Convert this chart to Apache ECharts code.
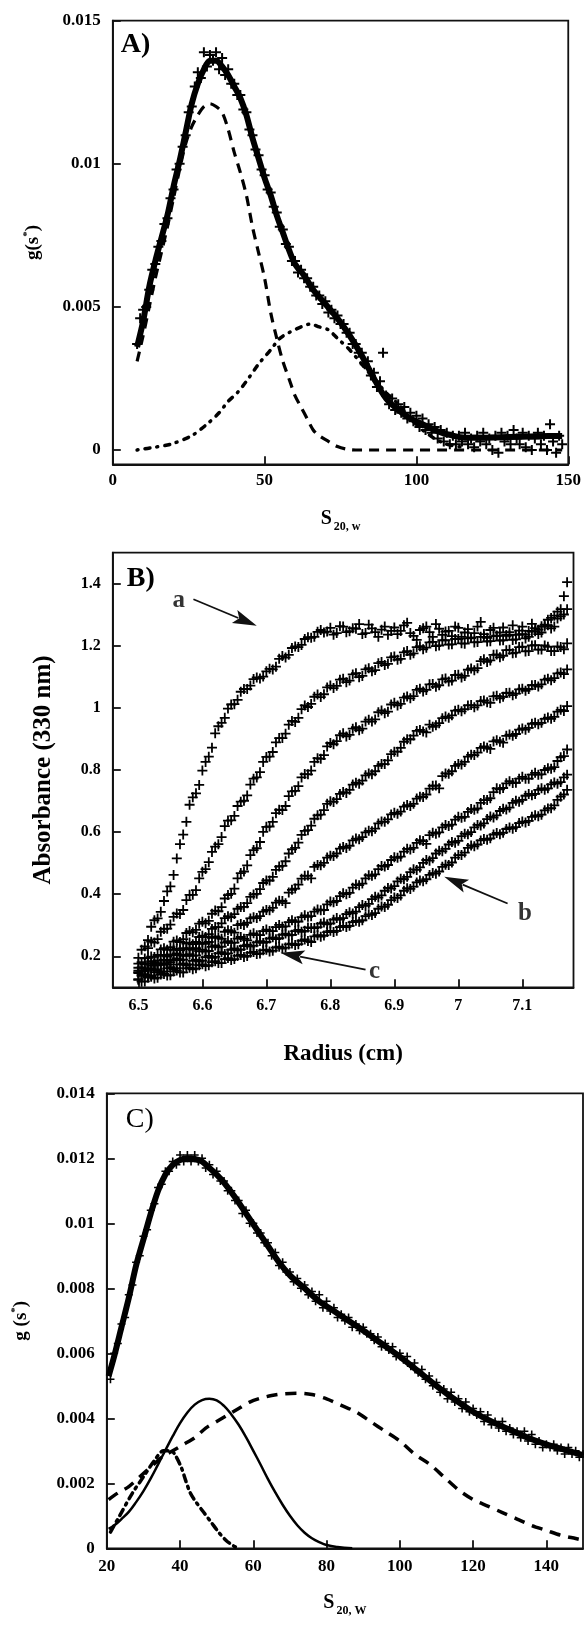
<!DOCTYPE html>
<html><head><meta charset="utf-8">
<script src="https://cdn.jsdelivr.net/npm/echarts@6/dist/echarts.min.js"></script>
<style>html,body{margin:0;padding:0;background:#fff}#c{width:584px;height:1633px}</style>
</head><body><div id="c"></div>
<script>
// ---------- Panel A ----------
const sA = [8,9,10,11,12,13,14,15,16,17,18,19,20,21,22,23,24,25,26,27,28,29,30,31,32,33,34,35,36,37,38,39,40,41,42,43,44,45,46,47,48,49,50,51,52,53,54,55,56,57,58,59,60,61,62,63,64,65,66,67,68,69,70,71,72,73,74,75,76,77,78,79,80,81,82,83,84,85,86,87,88,89,90,91,92,93,94,95,96,97,98,99,100,101,102,103,104,105,106,107,108,109,110,111,112,113,114,115,116,117,118,119,120,121,122,123,124,125,126,127,128,129,130,131,132,133,134,135,136,137,138,139,140,141,142,143,144,145,146,147,148];
const gA = [0.0037,0.0046,0.0049,0.0050,0.0056,0.0063,0.0065,0.0071,0.0073,0.0079,
0.0081,0.0088,0.0091,0.0098,0.0100,0.0106,0.0110,0.0118,0.0120,0.0127,
0.0132,0.0130,0.0139,0.0134,0.0138,0.0136,0.0139,0.0133,0.0137,0.0131,
0.0133,0.0128,0.0128,0.0124,0.0124,0.0119,0.0118,0.0112,0.0110,0.0105,
0.0103,0.0098,0.0096,0.0091,0.0090,0.0085,0.0083,0.0078,0.0077,0.0072,
0.0071,0.0066,0.0066,0.0062,0.0063,0.0060,0.0060,0.0057,0.0057,0.0054,
0.0054,0.0051,0.0052,0.0048,0.0049,0.0046,0.0047,0.0044,0.0044,0.0041,
0.0041,0.0037,0.0037,0.0034,0.0034,0.0030,0.0031,0.0026,0.0027,0.0022,
0.0024,0.0034,0.0019,0.0016,0.0018,0.0014,0.0016,0.0013,0.0015,0.0011,
0.0013,0.0010,0.0012,0.0008,0.0011,0.0007,0.0009,0.0006,0.0008,0.0004,
0.0007,0.0003,0.0006,0.0002,0.0005,0.0002,0.0005,0.0003,0.0006,0.0002,
0.0004,0.0001,0.0005,0.0003,0.0006,0.0002,0.0004,0.0000,0.0005,-0.0001,
0.0006,0.0003,0.0005,0.0002,0.0007,0.0004,0.0002,0.0006,0.0001,0.0005,
0.0000,0.0004,0.0006,0.0002,0.0005,0.0000,0.0009,0.0003,-0.0001,0.0005,
0.0002];
const fitAX = [8,10,12,14,16,18,20,22,24,26,28,30,32,34,36,38,40,42,44,46,48,50,52,54,56,58,60,63,66,70,74,78,82,86,90,94,98,102,106,110,116,122,130,140,148];
const fitAY = [0.0036,0.0045,0.0057,0.0066,0.0074,0.0082,0.0092,0.0101,0.0111,0.0121,0.0128,0.0133,0.0136,0.0136,0.0134,0.0131,0.0127,0.0123,0.0117,0.0109,0.0102,0.0095,0.0089,0.0082,0.0076,0.0070,0.0065,0.0061,0.0056,0.0051,0.0046,0.0040,0.0033,0.0025,0.0018,0.0014,0.0011,0.0009,0.0007,0.00055,0.00043,0.00043,0.00045,0.00048,0.00049];
const c1AX = [8,10,12,14,16,18,20,22,24,26,28,30,32,34,36,38,40,42,44,46,48,50,52,54,56,58,60,62,64,66,68,71,74,77,80,90,100,110,120,130,140,148];
const c1AY = [0.0031,0.0040,0.0050,0.0060,0.0069,0.0078,0.0088,0.0098,0.0107,0.0113,0.0117,0.0120,0.0121,0.0120,0.0118,0.0112,0.0104,0.0097,0.0089,0.0078,0.0069,0.0060,0.0048,0.0039,0.0031,0.0025,0.0019,0.0015,0.0011,0.0007,0.0005,0.0003,0.00012,0.00003,0,0,0,0,0,0,0,0];
const c2AX = [8,14,19,26,31,35,38,41,44,48,52,55,58,62,65,68,71,74,78,82,86,90,94,98,102,106,110,115];
const c2AY = [0,0.0001,0.0002,0.0005,0.0009,0.0013,0.0017,0.0020,0.0024,0.0030,0.0035,0.0039,0.0041,0.0043,0.0044,0.0043,0.0042,0.0039,0.0035,0.0030,0.0025,0.0020,0.0016,0.0011,0.0007,0.0004,0.0002,0.0001];
const ticksAX = [0,50,100,150];
const ticksAY = [0,0.005,0.01,0.015];

// ---------- Panel B ----------
const R = [6.50,6.51,6.52,6.53,6.54,6.55,6.56,6.57,6.58,6.59,6.60,6.61,6.62,6.63,6.64,6.65,6.66,6.67,6.68,6.69,6.70,6.71,6.72,6.73,6.74,6.75,6.76,6.77,6.78,6.79,6.80,6.81,6.82,6.83,6.84,6.85,6.86,6.87,6.88,6.89,6.90,6.91,6.92,6.93,6.94,6.95,6.96,6.97,6.98,6.99,7.00,7.01,7.02,7.03,7.04,7.05,7.06,7.07,7.08,7.09,7.10,7.11,7.12,7.13,7.14,7.15,7.16,7.17];
const R2 = [6.505,6.515,6.525,6.535,6.545,6.555,6.565,6.575,6.585,6.595,6.605,6.615,6.625,6.635,6.645,6.655,6.665,6.675,6.685,6.695,6.705,6.715,6.725,6.735,6.745,6.755,6.765,6.775,6.785,6.795,6.805,6.815,6.825,6.835,6.845,6.855,6.865,6.875,6.885,6.895,6.905,6.915,6.925,6.935,6.945,6.955,6.965,6.975,6.985,6.995,7.005,7.015,7.025,7.035,7.045,7.055,7.065,7.075,7.085,7.095,7.105,7.115,7.125,7.135,7.145,7.155,7.165];
const scan1 = [0.195,0.232,0.295,0.322,0.378,0.425,0.515,0.592,0.688,0.725,
0.798,0.843,0.918,0.952,0.998,1.012,1.052,1.061,1.093,1.095,
1.118,1.124,1.158,1.162,1.193,1.196,1.222,1.226,1.245,1.243,
1.258,1.241,1.262,1.247,1.255,1.238,1.268,1.244,1.252,1.236,
1.259,1.248,1.274,1.232,1.251,1.262,1.229,1.255,1.246,1.231,
1.258,1.243,1.226,1.262,1.238,1.251,1.233,1.259,1.244,1.236,
1.262,1.248,1.257,1.263,1.284,1.297,1.318,1.405];
const scan1b = [0.221,0.252,0.316,0.343,0.409,0.462,0.561,0.633,0.712,0.752,
0.826,0.872,0.941,0.968,1.011,1.026,1.061,1.072,1.098,1.101,
1.126,1.133,1.167,1.171,1.198,1.203,1.228,1.229,1.251,1.246,
1.236,1.263,1.244,1.257,1.270,1.241,1.256,1.229,1.262,1.248,
1.238,1.266,1.241,1.219,1.257,1.244,1.270,1.235,1.248,1.262,
1.229,1.254,1.241,1.277,1.226,1.258,1.243,1.232,1.266,1.249,
1.236,1.271,1.252,1.268,1.290,1.310,1.360];
const scan2 = [0.176,0.193,0.247,0.255,0.288,0.302,0.338,0.349,0.398,0.413,
0.472,0.503,0.553,0.584,0.637,0.652,0.698,0.718,0.772,0.793,
0.842,0.858,0.903,0.917,0.958,0.968,1.008,1.013,1.043,1.044,
1.072,1.071,1.094,1.088,1.112,1.103,1.128,1.122,1.148,1.142,
1.166,1.158,1.183,1.176,1.199,1.194,1.213,1.201,1.218,1.205,
1.222,1.207,1.226,1.212,1.229,1.215,1.232,1.218,1.234,1.221,
1.238,1.229,1.247,1.243,1.266,1.262,1.295,1.318];
const scan2b = [0.181,0.226,0.244,0.279,0.289,0.327,0.336,0.381,0.398,0.451,
0.481,0.536,0.561,0.619,0.638,0.684,0.701,0.753,0.776,0.826,
0.843,0.889,0.903,0.946,0.955,0.996,1.003,1.036,1.035,1.066,
1.064,1.091,1.083,1.108,1.099,1.124,1.118,1.144,1.138,1.163,
1.155,1.179,1.171,1.196,1.189,1.211,1.199,1.218,1.204,1.222,
1.208,1.224,1.211,1.229,1.214,1.231,1.217,1.235,1.219,1.236,
1.224,1.246,1.238,1.262,1.256,1.288,1.301];
const scan3 = [0.163,0.174,0.199,0.204,0.226,0.229,0.251,0.255,0.281,0.285,
0.311,0.314,0.347,0.358,0.397,0.418,0.468,0.493,0.542,0.568,
0.617,0.633,0.672,0.684,0.731,0.748,0.787,0.798,0.838,0.848,
0.887,0.893,0.918,0.913,0.938,0.933,0.962,0.963,0.992,0.988,
1.017,1.013,1.037,1.038,1.062,1.058,1.077,1.073,1.095,1.088,
1.107,1.103,1.127,1.128,1.157,1.153,1.172,1.168,1.187,1.178,
1.197,1.183,1.202,1.188,1.197,1.183,1.196,1.208];
const scan3b = [0.164,0.195,0.198,0.222,0.221,0.247,0.246,0.275,0.277,0.305,
0.306,0.337,0.345,0.386,0.401,0.451,0.473,0.526,0.548,0.601,
0.618,0.661,0.671,0.716,0.733,0.776,0.786,0.826,0.836,0.876,
0.883,0.912,0.908,0.933,0.928,0.956,0.956,0.986,0.983,1.011,
1.008,1.033,1.031,1.058,1.053,1.076,1.068,1.092,1.085,1.106,
1.098,1.123,1.121,1.151,1.148,1.171,1.163,1.186,1.176,1.196,
1.182,1.201,1.188,1.201,1.183,1.198,1.189];
const scan4 = [0.154,0.161,0.184,0.186,0.204,0.206,0.224,0.226,0.244,0.246,
0.266,0.271,0.294,0.306,0.329,0.336,0.359,0.371,0.399,0.416,
0.444,0.456,0.489,0.506,0.544,0.566,0.604,0.621,0.654,0.671,
0.699,0.706,0.729,0.736,0.759,0.766,0.789,0.796,0.819,0.831,
0.859,0.871,0.899,0.911,0.929,0.921,0.939,0.951,0.972,0.976,
0.994,0.996,1.009,1.008,1.024,1.016,1.039,1.036,1.049,1.046,
1.062,1.061,1.074,1.076,1.094,1.096,1.114,1.124];
const scan4b = [0.151,0.178,0.181,0.201,0.199,0.221,0.219,0.241,0.239,0.262,
0.262,0.288,0.294,0.323,0.326,0.353,0.359,0.391,0.401,0.436,
0.444,0.478,0.491,0.531,0.549,0.591,0.606,0.643,0.656,0.691,
0.697,0.723,0.726,0.753,0.756,0.783,0.786,0.813,0.819,0.851,
0.859,0.891,0.899,0.926,0.924,0.946,0.944,0.967,0.968,0.991,
0.989,1.008,1.002,1.022,1.018,1.037,1.031,1.048,1.041,1.060,
1.055,1.073,1.069,1.091,1.089,1.111,1.109];
const scan5 = [0.149,0.151,0.169,0.171,0.189,0.181,0.209,0.201,0.226,0.226,
0.244,0.246,0.264,0.256,0.284,0.276,0.304,0.308,0.326,0.329,
0.349,0.356,0.379,0.371,0.414,0.431,0.459,0.451,0.494,0.501,
0.524,0.531,0.552,0.556,0.579,0.584,0.604,0.611,0.634,0.641,
0.662,0.666,0.687,0.691,0.714,0.721,0.749,0.741,0.789,0.796,
0.819,0.826,0.849,0.856,0.876,0.868,0.896,0.888,0.914,0.916,
0.934,0.936,0.952,0.952,0.969,0.971,0.994,1.006];
const scan5b = [0.154,0.156,0.175,0.176,0.185,0.204,0.204,0.222,0.221,0.240,
0.240,0.259,0.261,0.279,0.281,0.300,0.301,0.322,0.323,0.344,
0.348,0.373,0.378,0.405,0.418,0.450,0.460,0.488,0.493,0.518,
0.523,0.547,0.549,0.573,0.577,0.599,0.603,0.628,0.633,0.657,
0.659,0.682,0.684,0.708,0.713,0.740,0.750,0.780,0.788,0.813,
0.818,0.843,0.848,0.871,0.872,0.892,0.891,0.910,0.910,0.930,
0.930,0.949,0.947,0.965,0.965,0.988,0.990];
const scan6 = [0.146,0.142,0.162,0.158,0.178,0.174,0.193,0.189,0.207,0.203,
0.221,0.217,0.235,0.231,0.249,0.244,0.262,0.251,0.274,0.268,
0.286,0.281,0.301,0.296,0.316,0.312,0.332,0.329,0.351,0.349,
0.376,0.378,0.403,0.404,0.431,0.434,0.461,0.464,0.491,0.494,
0.519,0.521,0.546,0.549,0.574,0.562,0.598,0.599,0.623,0.624,
0.649,0.649,0.674,0.676,0.703,0.709,0.741,0.742,0.764,0.759,
0.778,0.772,0.791,0.786,0.806,0.809,0.841,0.866];
const scan6b = [0.141,0.156,0.157,0.172,0.173,0.188,0.187,0.202,0.201,0.216,
0.215,0.230,0.229,0.244,0.243,0.257,0.256,0.269,0.268,0.281,
0.281,0.294,0.295,0.310,0.311,0.326,0.327,0.344,0.348,0.367,
0.374,0.394,0.400,0.421,0.429,0.451,0.459,0.481,0.489,0.510,
0.517,0.537,0.544,0.565,0.571,0.590,0.595,0.615,0.620,0.640,
0.646,0.665,0.672,0.694,0.703,0.729,0.738,0.757,0.758,0.772,
0.772,0.785,0.785,0.800,0.804,0.829,0.845];
const scan7 = [0.126,0.141,0.138,0.153,0.151,0.165,0.162,0.177,0.174,0.189,
0.186,0.201,0.198,0.213,0.209,0.225,0.222,0.237,0.234,0.249,
0.246,0.261,0.258,0.273,0.269,0.285,0.282,0.291,0.294,0.309,
0.306,0.323,0.323,0.342,0.344,0.365,0.369,0.392,0.396,0.420,
0.426,0.450,0.456,0.480,0.486,0.510,0.516,0.540,0.546,0.568,
0.572,0.595,0.600,0.623,0.628,0.650,0.654,0.675,0.679,0.701,
0.704,0.723,0.723,0.741,0.741,0.760,0.761,0.785];
const scan7b = [0.137,0.134,0.149,0.147,0.161,0.159,0.173,0.171,0.185,0.183,
0.197,0.195,0.209,0.207,0.221,0.219,0.233,0.231,0.245,0.243,
0.257,0.255,0.269,0.267,0.281,0.279,0.293,0.291,0.305,0.303,
0.318,0.318,0.336,0.338,0.358,0.362,0.384,0.389,0.411,0.418,
0.441,0.448,0.471,0.478,0.501,0.508,0.531,0.538,0.560,0.566,
0.587,0.593,0.615,0.621,0.642,0.647,0.668,0.673,0.694,0.698,
0.717,0.719,0.736,0.736,0.754,0.756,0.776];
const scan8 = [0.124,0.119,0.134,0.131,0.143,0.139,0.154,0.148,0.163,0.161,
0.174,0.171,0.184,0.178,0.194,0.191,0.204,0.201,0.214,0.209,
0.221,0.218,0.231,0.228,0.241,0.239,0.254,0.246,0.268,0.267,
0.282,0.282,0.298,0.298,0.314,0.316,0.335,0.339,0.360,0.366,
0.389,0.396,0.419,0.424,0.444,0.448,0.468,0.473,0.495,0.502,
0.526,0.534,0.557,0.560,0.578,0.580,0.597,0.598,0.615,0.616,
0.634,0.636,0.654,0.656,0.676,0.686,0.714,0.736];
const scan8b = [0.118,0.131,0.128,0.141,0.138,0.151,0.148,0.161,0.158,0.171,
0.168,0.181,0.178,0.191,0.188,0.201,0.198,0.211,0.207,0.219,
0.215,0.228,0.225,0.238,0.236,0.250,0.249,0.264,0.263,0.278,
0.278,0.294,0.294,0.310,0.311,0.329,0.333,0.353,0.359,0.381,
0.388,0.411,0.417,0.438,0.442,0.462,0.466,0.488,0.494,0.518,
0.526,0.549,0.554,0.573,0.575,0.592,0.593,0.610,0.611,0.629,
0.631,0.649,0.651,0.670,0.677,0.704,0.721];
const scansB = [[scan1,scan1b],[scan2,scan2b],[scan3,scan3b],[scan4,scan4b],[scan5,scan5b],[scan6,scan6b],[scan7,scan7b],[scan8,scan8b]];
const ticksBX = [6.5,6.6,6.7,6.8,6.9,7,7.1];
const ticksBY = [0.2,0.4,0.6,0.8,1,1.2,1.4];
// arrows: [fromR, fromA, toR, toA]
const arrowsB = [[6.586,1.350,6.685,1.265],[7.077,0.370,6.978,0.456],[6.855,0.157,6.722,0.211]];
const arrowNames = ['a','b','c'];
const arrowLabelPos = [[6.563,1.346],[7.104,0.336],[6.869,0.152]];

// ---------- Panel C ----------
const sC = [21,22,23,24,25,26,27,28,29,30,31,32,33,34,35,36,37,38,39,40,41,42,43,44,45,46,47,48,49,50,51,52,53,54,55,56,57,58,59,60,61,62,63,64,65,66,67,68,69,70,71,72,73,74,75,76,77,78,79,80,81,82,83,84,85,86,87,88,89,90,91,92,93,94,95,96,97,98,99,100,101,102,103,104,105,106,107,108,109,110,111,112,113,114,115,116,117,118,119,120,121,122,123,124,125,126,127,128,129,130,131,132,133,134,135,136,137,138,139,140,141,142,143,144,145,146,147,148,149,150];
const gC = [0.0052,0.0060,0.0063,0.0069,0.0071,0.0078,0.0081,0.0088,0.0090,0.0096,
0.0098,0.0104,0.0106,0.0111,0.0112,0.0116,0.0116,0.0119,0.0118,0.0121,
0.0119,0.0121,0.0119,0.0121,0.0119,0.0120,0.0117,0.0118,0.0115,0.0116,
0.0113,0.0113,0.0110,0.0110,0.0107,0.0107,0.0103,0.0104,0.0100,0.0100,
0.0097,0.0097,0.0094,0.0094,0.0090,0.0091,0.0087,0.0088,0.0085,0.0085,
0.0082,0.0083,0.0080,0.0081,0.0078,0.0079,0.0076,0.0078,0.0074,0.0076,
0.0073,0.0074,0.0071,0.0072,0.0070,0.0071,0.0068,0.0069,0.0067,0.0068,
0.0066,0.0066,0.0064,0.0065,0.0062,0.0063,0.0061,0.0062,0.0059,0.0060,
0.0058,0.0059,0.0056,0.0057,0.0054,0.0055,0.0052,0.0053,0.0050,0.0051,
0.0048,0.0049,0.0046,0.0048,0.0045,0.0046,0.0043,0.0045,0.0042,0.0043,
0.0041,0.0042,0.0039,0.0041,0.0038,0.0039,0.0037,0.0039,0.0036,0.0037,
0.0035,0.0036,0.0034,0.0036,0.0033,0.0035,0.0032,0.0033,0.0031,0.0032,
0.0031,0.0032,0.0030,0.0031,0.0029,0.0031,0.0029,0.0030,0.0028,0.0029];
const fitCX = [20.5,22,24,26,28,30,32,34,36,38,40,42,44,46,48,50,52,55,58,61,64,67,70,74,78,82,86,90,95,100,105,110,115,120,125,130,135,140,145,150];
const fitCY = [0.0053,0.0059,0.0068,0.0077,0.0087,0.0095,0.0103,0.0110,0.0115,0.0118,0.01195,0.0120,0.01198,0.0119,0.0117,0.0115,0.01125,0.0108,0.0103,0.0098,0.0093,0.0088,0.0084,0.0080,0.0076,0.0073,0.0070,0.0067,0.0063,0.0059,0.00545,0.0050,0.00458,0.0042,0.0039,0.00365,0.0034,0.0032,0.00303,0.00287];
const c1CX = [20.5,22,24,26,28,30,32,34,36,38,40,42,44,46,48,50,52,54,56,58,60,62,64,66,68,70,72,74,76,78,80,83,87];
const c1CY = [0.0006,0.0007,0.0009,0.00112,0.00142,0.00176,0.00215,0.00258,0.00302,0.00345,0.00385,0.00418,0.00442,0.00456,0.0046,0.00455,0.00438,0.00412,0.0038,0.00342,0.0030,0.00257,0.00213,0.00172,0.00134,0.0010,0.00071,0.00048,0.00031,0.00019,0.0001,0.00004,0];
const c2CX = [20.5,23,26,29,32,35,38,41,44,47,50,53,56,59,62,65,68,72,76,80,84,88,92,96,100,104,108,112,116,120,124,128,132,136,140,144,148,150];
const c2CY = [0.0015,0.0017,0.0019,0.0022,0.0025,0.0028,0.0030,0.0032,0.0034,0.0037,0.0039,0.0041,0.0043,0.0045,0.00462,0.0047,0.00475,0.00477,0.00473,0.0046,0.0044,0.0042,0.0039,0.0036,0.0033,0.0029,0.0026,0.0022,0.0018,0.0015,0.0013,0.0011,0.0009,0.0007,0.00055,0.0004,0.0003,0.00025];
const c3CX = [21,23.5,27,30,33,35.5,37.5,38.5,40.3,41.5,42.8,44.5,46.5,48.5,50.5,52.5,54.5,56];
const c3CY = [0.0005,0.0010,0.0017,0.0022,0.0027,0.0030,0.0030,0.0029,0.0025,0.0021,0.0017,0.0014,0.0011,0.0008,0.0005,0.00025,0.00008,0];
const ticksCX = [20,40,60,80,100,120,140];
const ticksCY = [0,0.002,0.004,0.006,0.008,0.01,0.012,0.014];

// ---------- build ----------
const FONT = '"Liberation Serif", "Times New Roman", serif';
const INK = '#000';
const pairs = (xs, ys) => xs.map((x, i) => [x, ys[i]]);
const PLUS = 'path://M0,5L10,5M5,0L5,10';

const grids = [
  {left: 112.8, top: 20.7, width: 455.9, height: 443.6},
  {left: 112.8, top: 552.7, width: 460.7, height: 434.6},
  {left: 106.8, top: 1093.3, width: 476.2, height: 455}
].map(g => Object.assign(g, {show: true, borderColor: '#111', borderWidth: 1.8, backgroundColor: 'transparent', containLabel: false}));

function valAxis(idx, min, max, ticks, fontSize, margin, extra) {
  return Object.assign({
    type: 'value', gridIndex: idx, min: min, max: max,
    axisLine: {show: true, onZero: false, lineStyle: {color: '#111', width: 1.8}},
    axisTick: {show: true, inside: true, length: 8, customValues: ticks, lineStyle: {color: '#111', width: 1.8}},
    axisLabel: {show: true, customValues: ticks, color: INK, fontFamily: FONT, fontWeight: 'bold', fontSize: fontSize, margin: margin},
    splitLine: {show: false}
  }, extra || {});
}

const subRich = {
  s: {fontFamily: FONT, fontWeight: 'bold', fontSize: 20, color: INK},
  sub: {fontFamily: FONT, fontWeight: 'bold', fontSize: 12, color: INK, padding: [16, 0, 0, 2]}
};
const gRich = {
  t: {fontFamily: FONT, fontWeight: 'bold', fontSize: 19, color: INK},
  sup: {fontFamily: FONT, fontWeight: 'bold', fontSize: 11, color: INK, padding: [0, 0, 12, 0]}
};

const xAxes = [
  valAxis(0, 0, 150, ticksAX, 17, 8, {name: '{s|S}{sub|20, w}', nameLocation: 'middle', nameGap: 41, nameTextStyle: {rich: subRich}}),
  valAxis(1, 6.46, 7.18, ticksBX, 16, 11, {name: 'Radius (cm)', nameLocation: 'middle', nameGap: 55,
    nameTextStyle: {fontFamily: FONT, fontWeight: 'bold', fontSize: 23, color: INK}}),
  valAxis(2, 20, 150, ticksCX, 17, 10, {name: '{s|S}{sub|20, W}', nameLocation: 'middle', nameGap: 41, nameTextStyle: {rich: subRich}})
];
const yAxes = [
  valAxis(0, -0.0005, 0.015, ticksAY, 17, 12, {name: '{t|g(s}{sup|*}{t|)}', nameLocation: 'middle', nameGap: 68, nameTextStyle: {rich: gRich}}),
  valAxis(1, 0.1, 1.5, ticksBY, 16, 12, {name: 'Absorbance (330 nm)', nameLocation: 'middle', nameGap: 57,
    nameTextStyle: {fontFamily: FONT, fontWeight: 'bold', fontSize: 25, color: INK}}),
  valAxis(2, 0, 0.014, ticksCY, 17, 12, {name: '{t|g (s}{sup|*}{t|)}', nameLocation: 'middle', nameGap: 74, nameTextStyle: {rich: gRich}})
];

function plusSeries(idx, data, size, bw) {
  return {type: 'scatter', xAxisIndex: idx, yAxisIndex: idx, data: data, symbol: PLUS, symbolSize: size,
    itemStyle: {color: 'rgba(0,0,0,0)', borderColor: INK, borderWidth: bw, opacity: 1}, silent: true, animation: false, z: 2};
}
function lineSeries(idx, data, width, dash, cap, smooth) {
  return {type: 'line', xAxisIndex: idx, yAxisIndex: idx, data: data, showSymbol: false, symbol: 'none', smooth: smooth === undefined ? 0.3 : smooth,
    lineStyle: {color: INK, width: width, type: dash || 'solid', cap: cap || 'butt', join: 'round'}, silent: true, animation: false, z: 3};
}

const series = [];
// A
series.push(plusSeries(0, pairs(sA, gA), 10, 2));
series.push(lineSeries(0, pairs(fitAX, fitAY), 6));
series.push(lineSeries(0, pairs(c1AX, c1AY), 3.2, [10, 7]));
series.push(lineSeries(0, pairs(c2AX, c2AY), 3.5, [1, 7, 5, 7], 'round'));
// B
scansB.forEach(sc => series.push(plusSeries(1, pairs(R, sc[0]).concat(pairs(R2, sc[1])), 10, 1.8)));
series.push({
  type: 'custom', xAxisIndex: 1, yAxisIndex: 1, data: arrowsB, silent: true, animation: false, z: 5, clip: false,
  encode: {x: [0, 2], y: [1, 3]},
  renderItem: function (params, api) {
    const p1 = api.coord([api.value(0), api.value(1)]);
    const p2 = api.coord([api.value(2), api.value(3)]);
    const dx = p2[0] - p1[0], dy = p2[1] - p1[1];
    const L = Math.sqrt(dx * dx + dy * dy);
    const ux = dx / L, uy = dy / L;
    const hl = 24, hw = 7;
    const bx = p2[0] - ux * hl, by = p2[1] - uy * hl;
    return {type: 'group', children: [
      {type: 'line', shape: {x1: p1[0], y1: p1[1], x2: bx + ux * 4, y2: by + uy * 4}, style: {stroke: '#111', lineWidth: 1.8}},
      {type: 'polygon', shape: {points: [[p2[0], p2[1]], [bx - uy * hw, by + ux * hw], [bx + ux * 5, by + uy * 5], [bx + uy * hw, by - ux * hw]]}, style: {fill: '#111'}}
    ]};
  }
});
series.push({
  type: 'scatter', xAxisIndex: 1, yAxisIndex: 1, symbolSize: 0, silent: true, animation: false, z: 6,
  data: arrowLabelPos.map((p, i) => ({value: p, name: arrowNames[i]})),
  label: {show: true, position: 'inside', formatter: '{b}', fontFamily: FONT, fontWeight: 'bold', fontSize: 25, color: INK}
});
// C
series.push(plusSeries(2, pairs(sC, gC), 8, 1.6));
series.push(lineSeries(2, pairs(fitCX, fitCY), 6));
series.push(lineSeries(2, pairs(c1CX, c1CY), 2.5, 'solid', 'butt', 0.4));
series.push(lineSeries(2, pairs(c2CX, c2CY), 3.5, [11, 8]));
series.push(lineSeries(2, pairs(c3CX, c3CY), 3.5, [7, 5, 2, 5], 'round'));

const panelText = (txt, gi, dx, dy, weight) => ({
  type: 'text', left: grids[gi].left + dx, top: grids[gi].top + dy,
  style: {text: txt, fontFamily: FONT, fontWeight: weight, fontSize: 28, fill: INK}
});

const chart = echarts.init(document.getElementById('c'), null, {renderer: 'canvas'});
chart.setOption({
  backgroundColor: '#fff',
  animation: false,
  grid: grids,
  xAxis: xAxes,
  yAxis: yAxes,
  series: series,
  graphic: [
    panelText('A)', 0, 8, 10, 'bold'),
    panelText('B)', 1, 14, 12, 'bold'),
    panelText('C)', 2, 19, 12, 'normal')
  ]
});
</script></body></html>
